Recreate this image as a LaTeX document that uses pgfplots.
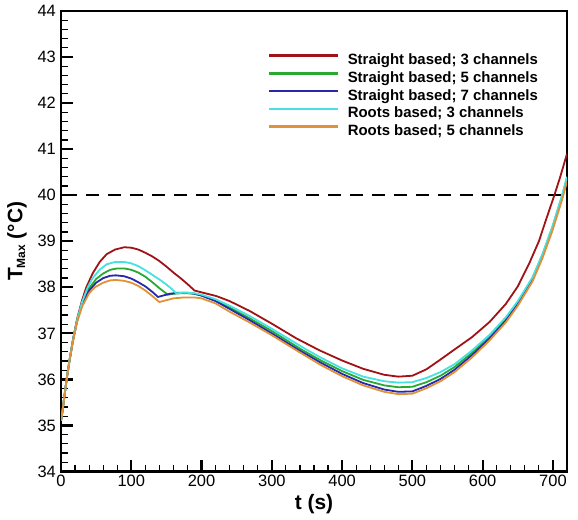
\documentclass[border=0pt]{standalone}
\usepackage{fontspec}
\setmainfont{Liberation Sans}
\usepackage{pgfplots}
\pgfplotsset{compat=1.18}
\definecolor{cS3}{RGB}{160,18,22}
\definecolor{cS5}{RGB}{40,170,50}
\definecolor{cS7}{RGB}{40,40,170}
\definecolor{cR3}{RGB}{70,225,225}
\definecolor{cR5}{RGB}{225,145,55}
\newcommand{\lt}[1]{\makebox[195bp][l]{#1}}
\begin{document}
\begin{tikzpicture}
\begin{axis}[
  scale only axis,
  width=506bp, height=460.5bp,
  xmin=0, xmax=720, ymin=34, ymax=44,
  xtick={0,100,...,700}, ytick={34,35,...,44},
  minor x tick num=4, minor y tick num=4,
  xtick pos=bottom, ytick pos=left,
  tick align=inside,
  major tick length=12bp, minor tick length=7bp,
  axis line style={line width=2.2bp},
  every major tick/.append style={line width=2.2bp, black},
  every minor tick/.append style={line width=1.2bp, black},
  tick label style={font=\fontsize{16.5}{16.5}\selectfont},
  xticklabel style={inner sep=3.5bp},
  yticklabel style={inner sep=5bp},
  /pgf/number format/assume math mode=true,
  xlabel={\bfseries t (s)},
  ylabel={\bfseries T{\fontsize{12}{12}\selectfont\raisebox{-0.45ex}{Max}} (°C)},
  every axis x label/.style={at={(axis description cs:0.5,-0.0706)}, anchor=center, font=\fontsize{21}{21}\selectfont},
  every axis y label/.style={at={(axis description cs:-0.087,0.5)}, anchor=center, rotate=90, font=\fontsize{21}{21}\selectfont},
  legend cell align=left,
  legend style={at={(rel axis cs:0.409,0.908)}, anchor=north west, draw=none, fill=none,
    inner sep=0pt, row sep=3.75bp,
    font=\fontsize{15}{15}\selectfont\bfseries,
    nodes={inner sep=0pt, text height=11bp, text depth=3bp},
    /tikz/every odd column/.append style={column sep=8bp}},
  legend image code/.code={\draw[#1, line width=2.6bp] (0bp,5bp) -- (69bp,5bp);},
]
\addplot[black, line width=2bp, dash pattern=on 13bp off 9bp, dash phase=19bp, forget plot] coordinates {(0,40) (720,40)};

\addplot[cS3, line width=1.8bp] coordinates {
(0,35.10)(2,35.30)(5,35.65)(8,36.00)(12,36.40)(17,36.86)(23,37.32)(30,37.72)(36,38.00)(45,38.30)(55,38.55)(65,38.72)(77,38.82)(90,38.87)(100,38.86)(110,38.82)(120,38.75)(130,38.67)(140,38.57)(150,38.45)(160,38.32)(170,38.20)(180,38.07)(190,37.93)(200,37.89)(221,37.81)(240,37.70)(268,37.49)(300,37.21)(335,36.89)(368,36.63)(400,36.41)(430,36.23)(460,36.10)(480,36.06)(500,36.08)(520,36.22)(538,36.41)(560,36.65)(585,36.92)(610,37.25)(633,37.64)(650,38.02)(666,38.51)(680,39.00)(690,39.46)(702,40.00)(710,40.38)(720,40.90)};
\addlegendentry{\lt{Straight based; 3 channels}}

\addplot[cS5, line width=1.8bp] coordinates {
(0,35.10)(2,35.30)(5,35.65)(8,36.00)(12,36.40)(17,36.85)(23,37.29)(30,37.65)(40,37.98)(50,38.18)(60,38.30)(70,38.38)(80,38.41)(90,38.41)(100,38.38)(110,38.32)(120,38.23)(130,38.11)(140,37.98)(152,37.84)(160,37.86)(170,37.87)(180,37.87)(190,37.86)(200,37.82)(220,37.71)(240,37.56)(268,37.33)(300,37.05)(342,36.65)(370,36.41)(400,36.18)(430,35.99)(460,35.87)(480,35.83)(500,35.84)(520,35.94)(540,36.08)(560,36.27)(585,36.58)(610,36.93)(633,37.32)(650,37.67)(671,38.20)(685,38.70)(699,39.29)(713,39.98)(720,40.38)};
\addlegendentry{\lt{Straight based; 5 channels}}

\addplot[cS7, line width=1.8bp] coordinates {
(0,35.10)(2,35.30)(5,35.65)(8,36.00)(12,36.40)(17,36.84)(23,37.27)(30,37.62)(40,37.93)(50,38.10)(60,38.20)(70,38.25)(78,38.26)(90,38.24)(100,38.19)(110,38.11)(120,38.02)(130,37.90)(138,37.79)(145,37.82)(155,37.86)(165,37.88)(180,37.88)(190,37.86)(200,37.82)(220,37.70)(240,37.53)(268,37.29)(300,37.00)(337,36.65)(370,36.36)(400,36.12)(430,35.92)(460,35.78)(480,35.73)(500,35.74)(520,35.86)(540,36.01)(560,36.21)(585,36.53)(610,36.89)(633,37.28)(650,37.64)(671,38.17)(685,38.67)(699,39.26)(713,39.95)(720,40.35)};
\addlegendentry{\lt{Straight based; 7 channels}}

\addplot[cR3, line width=1.8bp] coordinates {
(0,35.10)(2,35.30)(5,35.65)(8,36.00)(12,36.40)(17,36.85)(23,37.30)(30,37.68)(38,38.00)(45,38.20)(55,38.38)(65,38.50)(77,38.55)(90,38.55)(100,38.52)(110,38.46)(120,38.37)(130,38.27)(140,38.17)(150,38.06)(158,37.96)(164,37.87)(172,37.88)(180,37.88)(190,37.87)(200,37.84)(220,37.74)(240,37.60)(268,37.38)(300,37.10)(325,36.87)(349,36.65)(370,36.47)(400,36.24)(430,36.06)(460,35.96)(480,35.93)(500,35.94)(520,36.03)(540,36.16)(560,36.33)(585,36.63)(610,36.97)(633,37.35)(650,37.70)(671,38.22)(685,38.72)(699,39.31)(713,40.00)(720,40.40)};
\addlegendentry{\lt{Roots based; 3 channels}}

\addplot[cR5, line width=1.8bp] coordinates {
(0,35.10)(2,35.30)(5,35.65)(8,36.00)(12,36.40)(17,36.83)(23,37.25)(30,37.58)(40,37.87)(48,38.00)(60,38.10)(70,38.15)(78,38.16)(90,38.14)(100,38.10)(110,38.03)(120,37.93)(130,37.81)(140,37.68)(150,37.72)(160,37.76)(175,37.78)(190,37.78)(200,37.76)(220,37.65)(240,37.47)(268,37.24)(300,36.96)(333,36.65)(370,36.31)(400,36.07)(430,35.87)(460,35.73)(480,35.68)(500,35.69)(520,35.81)(540,35.96)(560,36.16)(585,36.48)(610,36.85)(633,37.24)(650,37.60)(671,38.13)(685,38.63)(699,39.22)(713,39.90)(720,40.30)};
\addlegendentry{\lt{Roots based; 5 channels}}
\end{axis}
\pgfresetboundingbox
\useasboundingbox ([shift={(-61bp,-47.5bp)}]current axis.south west) rectangle ([shift={(11bp,11bp)}]current axis.north east);
\end{tikzpicture}
\end{document}
